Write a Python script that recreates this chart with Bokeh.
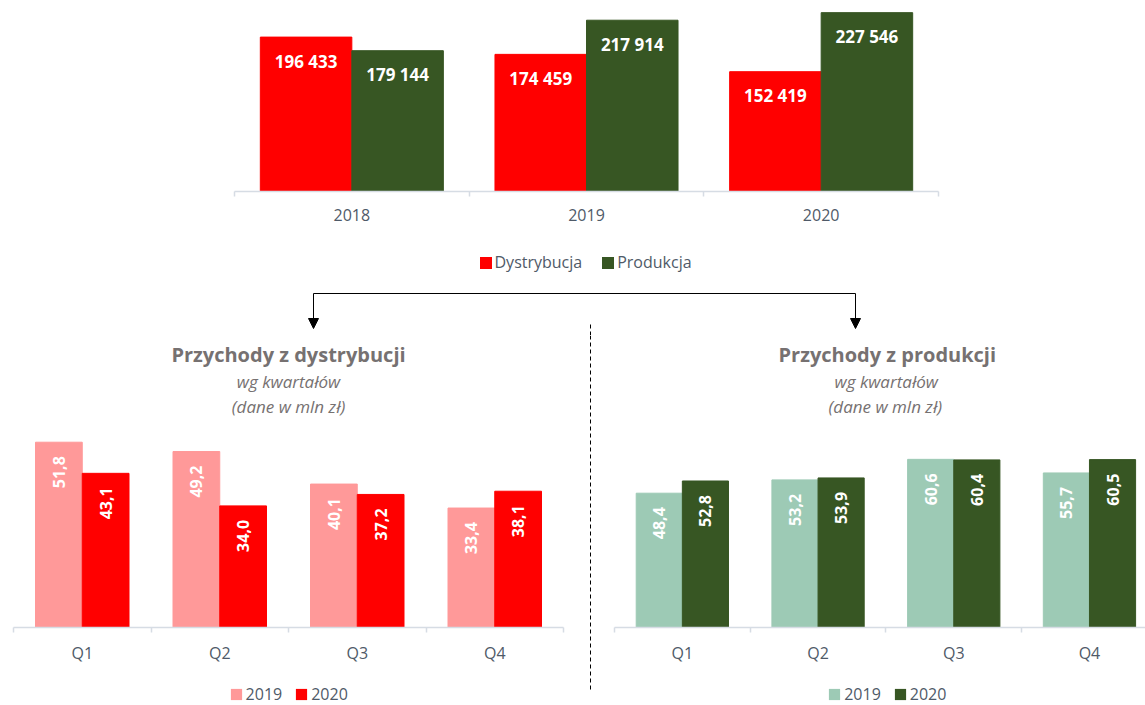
import math
from bokeh.plotting import figure
from bokeh.models import (ColumnDataSource, FixedTicker, Legend, LegendItem,
                          Range1d, Title, Arrow, NormalHead)
from bokeh.layouts import column, row
from bokeh.transform import dodge
from bokeh.core.properties import value
from bokeh.embed import file_html
from bokeh.resources import INLINE

# ---------------- data ----------------
years = ["2018", "2019", "2020"]
dystrybucja = [196433, 174459, 152419]
produkcja = [179144, 217914, 227546]

quarters = ["Q1", "Q2", "Q3", "Q4"]
dyst_2019 = [51.8, 49.2, 40.1, 33.4]
dyst_2020 = [43.1, 34.0, 37.2, 38.1]
prod_2019 = [48.4, 53.2, 60.6, 55.7]
prod_2020 = [52.8, 53.9, 60.4, 60.5]

series_top = ["Dystrybucja", "Produkcja"]
series_q = ["2019", "2020"]
title_dyst = "Przychody z dystrybucji"
title_prod = "Przychody z produkcji"
subtitle_1 = "wg kwartałów"
subtitle_2 = "(dane w mln zł)"

# ---------------- style ----------------
RED = "#FF0000"
DKGREEN = "#375623"
PINK = "#FF9999"
LTGREEN = "#9DCAB5"
AXIS = "#D6DCE4"
TXT = "#4F5A68"
TITLE = "#767171"
FONT_NAME = "Open Sans"
FONT = value(FONT_NAME)


def fmt_int(v):
    return f"{v:,}".replace(",", " ")


def fmt_dec(v):
    return f"{v:.1f}".replace(".", ",")


def base_fig(width, height, xr, yr, **kw):
    p = figure(width=width, height=height, x_range=xr, y_range=yr,
               output_backend="svg", toolbar_location=None,
               y_axis_location=None, outline_line_color=None,
               background_fill_color="white", border_fill_color="white", **kw)
    p.grid.visible = False
    return p


def style_xaxis(p, labels, standoff):
    n = len(labels)
    ax = p.xaxis[0]
    ax.ticker = FixedTicker(ticks=[i + 0.5 for i in range(n)],
                            minor_ticks=list(range(n + 1)))
    ax.major_label_overrides = {i + 0.5: lab for i, lab in enumerate(labels)}
    ax.axis_line_color = AXIS
    ax.axis_line_width = 1.5
    ax.major_tick_line_color = None
    ax.major_tick_in = 0
    ax.major_tick_out = 0
    ax.minor_tick_line_color = AXIS
    ax.minor_tick_line_width = 1.5
    ax.minor_tick_in = 0
    ax.minor_tick_out = 5
    ax.major_label_standoff = standoff
    ax.major_label_text_font = FONT_NAME
    ax.major_label_text_font_size = "16px"
    ax.major_label_text_color = TXT


def legend_fig(width, height, borders, labels, colors, loc, glyph, standoff,
               spacing):
    # frame is aligned by the layout with the chart above it
    p = base_fig(width, height, Range1d(0, 1), Range1d(0, 1),
                 x_axis_location=None, min_border_left=borders[0],
                 min_border_right=borders[1], min_border_top=0,
                 min_border_bottom=0)
    items = []
    for lab, col in zip(labels, colors):
        r = p.vbar(x=[-5], top=[0], width=0.1, fill_color=col,
                   line_color=None)
        items.append(LegendItem(label=lab, renderers=[r]))
    lg = Legend(items=items, location=loc, orientation="horizontal",
                glyph_width=glyph, glyph_height=glyph, label_height=glyph,
                label_standoff=standoff, spacing=spacing, padding=0, margin=0,
                border_line_color=None, background_fill_alpha=0,
                label_text_font=FONT_NAME, label_text_font_size="16px",
                label_text_color=TXT)
    p.add_layout(lg, "center")
    return p


# ---------------- top chart ----------------
TB = (234, 207)
top_src = ColumnDataSource(dict(
    x=[i + 0.5 for i in range(len(years))],
    d=dystrybucja, p=produkcja,
    dl=[fmt_int(v) for v in dystrybucja],
    pl=[fmt_int(v) for v in produkcja],
))
top = base_fig(1145, 240, Range1d(0, len(years)), Range1d(0, 243000),
               min_border_left=TB[0], min_border_right=TB[1],
               min_border_top=0, min_border_bottom=49)
BW_T = 0.39
top.vbar(x=dodge("x", -BW_T / 2), top="d", width=BW_T, source=top_src,
         fill_color=RED, line_color=RED)
top.vbar(x=dodge("x", BW_T / 2), top="p", width=BW_T, source=top_src,
         fill_color=DKGREEN, line_color=DKGREEN)
for col, lab, off in (("d", "dl", -BW_T / 2), ("p", "pl", BW_T / 2)):
    top.text(x=dodge("x", off), y=col, text=lab, source=top_src,
             text_align="center", text_baseline="middle", y_offset=24,
             text_color="white", text_font=FONT, text_font_size="17px",
             text_font_style="bold")
style_xaxis(top, years, 12)
top_leg = legend_fig(1145, 43, TB, series_top, [RED, DKGREEN], (243.5, 10),
                     15, 2, 18)

# ---------------- arrows (frame aligned with top chart: x = page px) -------
arr = base_fig(1145, 52, Range1d(TB[0], 1145 - TB[1]), Range1d(0, 52),
               x_axis_location=None, min_border_left=TB[0],
               min_border_right=TB[1], min_border_top=0, min_border_bottom=0)
arr.line(x=[313, 855], y=[42, 42], line_color="black", line_width=1)
for ax_x in (313, 855):
    arr.add_layout(Arrow(x_start=ax_x, y_start=42, x_end=ax_x, y_end=7,
                         line_color="black", line_width=1,
                         end=NormalHead(size=10, fill_color="black",
                                        line_color="black")))
arr.line(x=[590, 590], y=[11, 0], line_color="black", line_width=1,
         line_dash="4 3")


# ---------------- quarterly charts ----------------
def quarter_chart(width, xr_end, ymax, v19, v20, c19, c20, title, borders,
                  align, offsets):
    src = ColumnDataSource(dict(
        x=[i + 0.5 for i in range(len(quarters))], a=v19, b=v20,
        al=[fmt_dec(v) for v in v19], bl=[fmt_dec(v) for v in v20]))
    p = base_fig(width, 337, Range1d(0, xr_end), Range1d(0, ymax),
                 min_border_left=borders[0], min_border_right=borders[1],
                 min_border_top=82, min_border_bottom=45)
    bw = 0.34
    p.vbar(x=dodge("x", -bw / 2), top="a", width=bw, source=src,
           fill_color=c19, line_color=c19)
    p.vbar(x=dodge("x", bw / 2), top="b", width=bw, source=src,
           fill_color=c20, line_color=c20)
    for col, lab, off in (("a", "al", -bw / 2), ("b", "bl", bw / 2)):
        p.text(x=dodge("x", off), y=col, text=lab, source=src,
               angle=math.pi / 2, text_align="right", text_baseline="middle",
               y_offset=14, text_color="white", text_font=FONT,
               text_font_size="16px", text_font_style="bold")
    style_xaxis(p, quarters, 9)
    for (txt, size, st), off in zip(((subtitle_2, "17px", "italic"),
                                     (subtitle_1, "17px", "italic"),
                                     (title, "20px", "bold")), offsets):
        p.add_layout(Title(text=txt, align=align, text_font=FONT_NAME,
                           text_font_size=size, text_font_style=st,
                           text_color=TITLE, standoff=0, offset=off),
                     "above")
    return p


LB = (13, 17)
RB = (14, 0)
left = quarter_chart(580, len(quarters), 58.71, dyst_2019, dyst_2020, PINK,
                     RED, title_dyst, LB, "center", (0, 0, 0))
right = quarter_chart(545, 3.913, 75.68, prod_2019, prod_2020, LTGREEN,
                      DKGREEN, title_prod, RB, "left", (214, 220, 164))
left_leg = legend_fig(580, 33, LB, series_q, [PINK, RED], (215.6, 0), 14, 3,
                      12)
right_leg = legend_fig(545, 33, RB, series_q, [LTGREEN, DKGREEN], (213.2, 0),
                       14, 3, 12)

mid = base_fig(20, 370, Range1d(0, 20), Range1d(0, 370),
               x_axis_location=None, min_border=0)
mid.line(x=[10, 10], y=[370, 15], line_color="black", line_width=1,
         line_dash="4 3")

layout = column(
    top, top_leg, arr,
    row(column(left, left_leg, spacing=0), mid,
        column(right, right_leg, spacing=0), spacing=0),
    spacing=0)

with open("out.html", "w") as f:
    f.write(file_html(layout, INLINE))
